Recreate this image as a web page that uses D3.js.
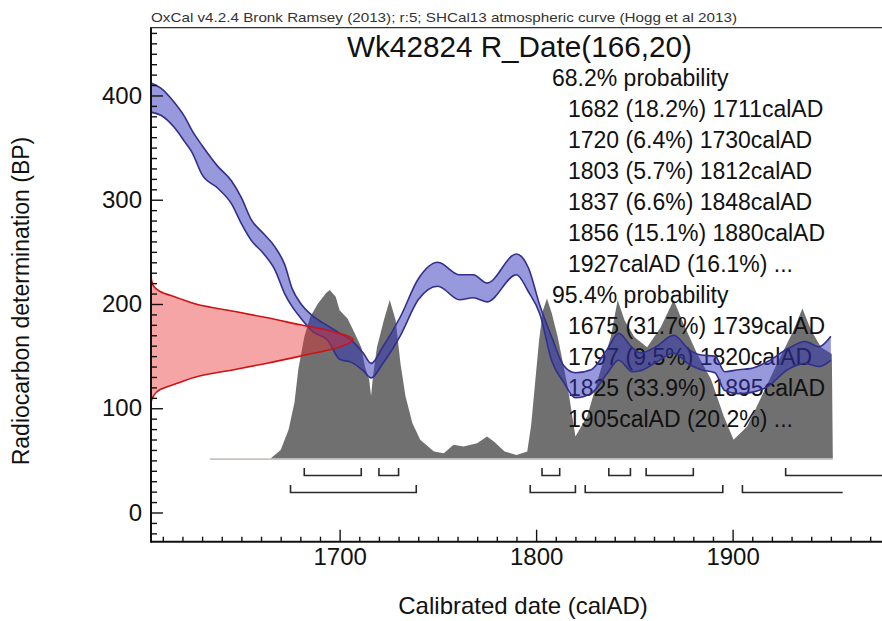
<!DOCTYPE html>
<html>
<head>
<meta charset="utf-8">
<script src="https://cdnjs.cloudflare.com/ajax/libs/d3/7.8.5/d3.min.js"></script>
<style>
  body { margin: 0; background: #fff; }
  svg { font-family: "Liberation Sans", Arial, sans-serif; display: block; }
</style>
</head>
<body>
<script>
// Calibration curve (SHCal13), 1 sigma envelope
var curveYears = [1604, 1609, 1616, 1621, 1625, 1630, 1638, 1645, 1650, 1655, 1661, 1667, 1672, 1676, 1680, 1686, 1694, 1700, 1706, 1712, 1716, 1722, 1731, 1740, 1750, 1761, 1768, 1775, 1790, 1796, 1802, 1808, 1814, 1820, 1828, 1836, 1842, 1849, 1853, 1861, 1870, 1878, 1884, 1891, 1896, 1903, 1909, 1918, 1928, 1937, 1944, 1950];
var curveUpper = [412, 407, 393, 380, 366, 352, 332, 318, 302, 281, 268, 255, 238, 214, 201, 189, 179, 172, 165, 153, 143, 159, 188, 224, 240, 228, 228, 220, 248, 235, 198, 168, 141, 134, 137, 156, 172, 158, 153, 159, 170, 156, 151, 150, 135, 137, 138, 145, 157, 164, 159, 169];
var curveLower = [384, 381, 369, 356, 345, 324, 311, 296, 277, 261, 249, 233, 210, 197, 187, 174, 165, 147, 144, 136, 129, 143, 170, 204, 217, 204, 206, 202, 228, 212, 190, 145, 125, 110, 114, 133, 146, 135, 136, 144, 153, 142, 137, 134, 117, 114, 115, 121, 137, 143, 140, 146];

// Calibrated probability (relative)
var probYears  = [1634, 1665, 1670, 1674, 1677, 1679, 1682, 1685, 1689, 1693, 1695, 1698, 1700, 1704, 1707, 1711, 1713, 1715, 1716, 1717, 1719, 1722.5, 1725.5, 1728.5, 1731, 1733.5, 1737, 1741, 1748, 1753, 1758, 1763, 1770, 1775, 1778.5, 1784, 1790, 1795.5, 1797.5, 1799.5, 1801.5, 1803.5, 1805.5, 1808, 1811, 1816, 1820, 1826, 1833, 1838, 1841.5, 1845, 1850, 1856.5, 1863.5, 1870, 1875, 1882, 1889, 1895.5, 1900.5, 1907.5, 1914, 1922.5, 1931, 1935.5, 1940, 1945, 1950.5, 1951];
var probValues = [0,    0,    0.05, 0.17, 0.33, 0.53, 0.72, 0.84, 0.92, 0.98, 1.0,  0.96, 0.88, 0.83, 0.76, 0.66, 0.54, 0.47, 0.37, 0.49, 0.66, 0.82,   0.94,   0.82,   0.56, 0.37,   0.21, 0.11, 0.04, 0.03, 0.08, 0.07, 0.09, 0.13, 0.10,   0.04, 0.02, 0.04,   0.2,    0.45,   0.7,    0.88,   0.95,   0.86, 0.72, 0.43, 0.13, 0.25, 0.53, 0.72, 0.94,   0.82, 0.72, 0.66,   0.78,   0.94, 0.80, 0.62, 0.47, 0.25,   0.11,   0.19,   0.35, 0.56,   0.76, 0.89,   0.76, 0.66, 0.62,   0];

// Radiocarbon date R_Date(166,20)
var dateBP   = [226, 218, 212, 206, 199, 193, 187, 180, 174, 166, 158, 150, 143, 137, 131, 124, 118, 111, 106];
var dateProb = [0, 0.01, 0.045, 0.13, 0.24, 0.41, 0.57, 0.74, 0.89, 1.0, 0.92, 0.74, 0.57, 0.41, 0.24, 0.13, 0.045, 0.01, 0];

// Ranges (end > 1950 = open ended)
var range68 = [[1682, 1711], [1720, 1730], [1803, 1812], [1837, 1848], [1856, 1880], [1927, 1990]];
var range95 = [[1675, 1739], [1797, 1820], [1825, 1895], [1905, 1956]];

var summaryLines = [
  "68.2% probability",
  "1682 (18.2%) 1711calAD",
  "1720 (6.4%) 1730calAD",
  "1803 (5.7%) 1812calAD",
  "1837 (6.6%) 1848calAD",
  "1856 (15.1%) 1880calAD",
  "1927calAD (16.1%) ...",
  "95.4% probability",
  "1675 (31.7%) 1739calAD",
  "1797 (9.5%) 1820calAD",
  "1825 (33.9%) 1895calAD",
  "1905calAD (20.2%) ..."
];

var xTicks = [1700, 1800, 1900];
var yTicks = [0, 100, 200, 300, 400];

// SVG size
var svgWidth = 882;
var svgHeight = 621;

var svg = d3.select("body")
  .append("svg")
  .attr("width", svgWidth)
  .attr("height", svgHeight);

// Scales
var xScale = d3.scaleLinear().domain([1604, 1980]).range([151, 889.8]);
var yScale = d3.scaleLinear().domain([-28, 465]).range([541.7, 27.7]);
var probY = d3.scaleLinear().domain([0, 1]).range([458.3, 290]);
var probX = d3.scaleLinear().domain([0, 1]).range([151, 353]);

// Calibrated distribution (grey)
var probData = probYears.map((d, i) => ({ year: d, p: probValues[i] }));
svg.append("line")
  .attr("x1", xScale(probYears[0]))
  .attr("x2", xScale(probYears[probYears.length - 1]))
  .attr("y1", probY(0) + 0.8)
  .attr("y2", probY(0) + 0.8)
  .attr("stroke", "#c9c2bb")
  .attr("stroke-width", 1.6);

svg.append("path")
  .datum(probData)
  .attr("fill", "#707070")
  .attr("d", d3.area()
    .x(d => xScale(d.year))
    .y0(probY(0))
    .y1(d => probY(d.p)));

// Summary text
var textGroup = svg.append("g").attr("font-size", 23).attr("fill", "#111");
summaryLines.forEach(function(line, i) {
  var isHeader = line.indexOf("probability") >= 0;
  textGroup.append("text")
    .attr("x", isHeader ? 552 : 568)
    .attr("y", 86 + i * 31)
    .text(line);
});

// Calibration curve band
var curveData = curveYears.map((d, i) => ({ year: d, hi: curveUpper[i], lo: curveLower[i] }));
svg.append("path")
  .datum(curveData)
  .attr("fill", "rgb(50,50,185)")
  .attr("fill-opacity", 0.5)
  .attr("d", d3.area()
    .curve(d3.curveMonotoneX)
    .x(d => xScale(d.year))
    .y0(d => yScale(d.lo))
    .y1(d => yScale(d.hi)));

["hi", "lo"].forEach(function(key) {
  svg.append("path")
    .datum(curveData)
    .attr("fill", "none")
    .attr("stroke", "rgb(48,48,140)")
    .attr("stroke-width", 1.6)
    .attr("d", d3.line()
      .curve(d3.curveMonotoneX)
      .x(d => xScale(d.year))
      .y(d => yScale(d[key])));
});

// Radiocarbon date (red)
var dateData = dateBP.map((d, i) => ({ bp: d, p: dateProb[i] }));
svg.append("path")
  .datum(dateData)
  .attr("fill", "rgb(232,40,40)")
  .attr("fill-opacity", 0.42)
  .attr("stroke", "rgb(205,20,20)")
  .attr("stroke-width", 1.6)
  .attr("d", d3.area()
    .curve(d3.curveMonotoneY)
    .y(d => yScale(d.bp))
    .x0(probX(0))
    .x1(d => probX(d.p)));

// Range brackets
function drawRanges(ranges, yLine) {
  ranges.forEach(function(r) {
    var x1 = xScale(r[0]);
    var x2 = Math.min(xScale(r[1]), svgWidth + 5);
    var pts = [[x1, yLine - 7.5], [x1, yLine], [x2, yLine]];
    if (r[1] <= 1950) pts.push([x2, yLine - 7.5]);
    svg.append("path")
      .attr("d", d3.line()(pts))
      .attr("fill", "none")
      .attr("stroke", "#2a2a2a")
      .attr("stroke-width", 1.6);
  });
}
drawRanges(range68, 475.5);
drawRanges(range95, 492.5);

// Axes
var bottomAxis = d3.axisBottom(xScale).tickValues(xTicks).tickSize(-12).tickPadding(6).tickFormat(d3.format("d"));
var bottomMinor = d3.axisBottom(xScale)
  .tickValues(d3.range(1610, 1990, 10).filter(d => d % 100 !== 0))
  .tickSize(-5).tickFormat("");
var leftAxis = d3.axisLeft(yScale).tickValues(yTicks).tickSize(-12).tickPadding(9);
var leftMinor = d3.axisLeft(yScale)
  .tickValues(d3.range(-20, 470, 10).filter(d => d % 100 !== 0))
  .tickSize(-6).tickFormat("");

var xg = svg.append("g").attr("transform", "translate(0, 541.7)");
xg.append("g").call(bottomMinor);
xg.append("g").call(bottomAxis);
var yg = svg.append("g").attr("transform", "translate(151, 0)");
yg.append("g").call(leftMinor);
yg.append("g").call(leftAxis);

svg.selectAll(".domain").remove();
svg.selectAll(".tick line").attr("stroke", "#111").attr("stroke-width", 1.4);
svg.selectAll(".tick text")
  .attr("font-family", "'Liberation Sans', Arial, sans-serif")
  .attr("font-size", 24)
  .attr("fill", "#111");

// Frame lines
svg.append("line").attr("x1", 151).attr("x2", svgWidth).attr("y1", 541.7).attr("y2", 541.7)
  .attr("stroke", "#111").attr("stroke-width", 2);
svg.append("line").attr("x1", 151).attr("x2", 151).attr("y1", 27.7).attr("y2", 542.7)
  .attr("stroke", "#111").attr("stroke-width", 2);
svg.append("line").attr("x1", 150).attr("x2", svgWidth).attr("y1", 27.7).attr("y2", 27.7)
  .attr("stroke", "#333").attr("stroke-width", 1.2);

// Header and title
svg.append("text")
  .attr("x", 151)
  .attr("y", 22)
  .attr("font-size", 13.5)
  .attr("fill", "#333")
  .attr("textLength", 586)
  .attr("lengthAdjust", "spacingAndGlyphs")
  .text("OxCal v4.2.4 Bronk Ramsey (2013); r:5; SHCal13 atmospheric curve (Hogg et al 2013)");

svg.append("text")
  .attr("x", 347)
  .attr("y", 57)
  .attr("font-size", 29.7)
  .attr("fill", "#111")
  .text("Wk42824 R_Date(166,20)");

// Axis titles
svg.append("text")
  .attr("transform", "translate(523, 614)")
  .attr("text-anchor", "middle")
  .attr("font-size", 24)
  .attr("fill", "#111")
  .text("Calibrated date (calAD)");

svg.append("text")
  .attr("transform", "translate(28.5, 301) rotate(270)")
  .attr("text-anchor", "middle")
  .attr("font-size", 23)
  .attr("fill", "#111")
  .text("Radiocarbon determination (BP)");
</script>
</body>
</html>
